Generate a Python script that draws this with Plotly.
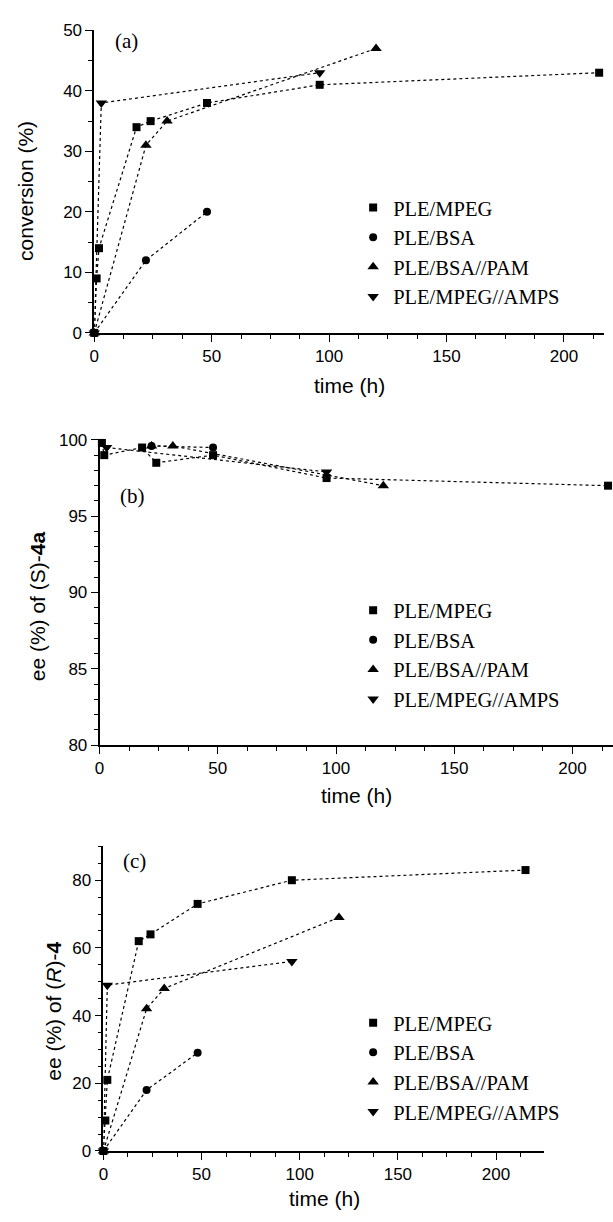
import plotly.graph_objects as go

W, H = 613, 1222

# ---------------- data ----------------
series_names = ["PLE/MPEG", "PLE/BSA", "PLE/BSA//PAM", "PLE/MPEG//AMPS"]
symbols = ["square", "circle", "triangle-up", "triangle-down"]
marker_sizes = [8, 8, 10, 10]

# (a) conversion (%)
a_mpeg_t = [0, 1, 2, 18, 24, 48, 96, 215]
a_mpeg_v = [0, 9, 14, 34, 35, 38, 41, 43]
a_bsa_t = [0, 22, 48]
a_bsa_v = [0, 12, 20]
a_pam_t = [0, 22, 31, 120]
a_pam_v = [0, 31, 35, 47]
a_amps_t = [0, 3, 96]
a_amps_v = [0, 38, 43]

# (b) ee (%) of (S)-4a
b_mpeg_t = [1, 2, 18, 24, 48, 96, 215]
b_mpeg_v = [99.8, 99.0, 99.5, 98.5, 99.0, 97.5, 97.0]
b_bsa_t = [22, 48]
b_bsa_v = [99.6, 99.5]
b_pam_t = [22, 31, 120]
b_pam_v = [99.6, 99.6, 97.0]
b_amps_t = [3, 96]
b_amps_v = [99.5, 97.9]

# (c) ee (%) of (R)-4
c_mpeg_t = [0, 1, 2, 18, 24, 48, 96, 215]
c_mpeg_v = [0, 9, 21, 62, 64, 73, 80, 83]
c_bsa_t = [0, 22, 48]
c_bsa_v = [0, 18, 29]
c_pam_t = [0, 22, 31, 120]
c_pam_v = [0, 42, 48, 69]
c_amps_t = [0, 2, 96]
c_amps_v = [0, 49, 56]

panels = [
    ("", "", "legend", [(a_mpeg_t, a_mpeg_v), (a_bsa_t, a_bsa_v), (a_pam_t, a_pam_v), (a_amps_t, a_amps_v)]),
    ("2", "2", "legend2", [(b_mpeg_t, b_mpeg_v), (b_bsa_t, b_bsa_v), (b_pam_t, b_pam_v), (b_amps_t, b_amps_v)]),
    ("3", "3", "legend3", [(c_mpeg_t, c_mpeg_v), (c_bsa_t, c_bsa_v), (c_pam_t, c_pam_v), (c_amps_t, c_amps_v)]),
]

fig = go.Figure()
for xs, ys, leg, data in panels:
    for i, (t, v) in enumerate(data):
        fig.add_trace(go.Scatter(
            x=t, y=v, mode="lines", xaxis="x" + xs, yaxis="y" + ys,
            line=dict(color="black", width=1.2, dash="dot"),
            showlegend=False, hoverinfo="skip"))
    for i, (t, v) in enumerate(data):
        fig.add_trace(go.Scatter(
            x=t, y=v, mode="markers", xaxis="x" + xs, yaxis="y" + ys,
            name=series_names[i], legend=leg, cliponaxis=False,
            marker=dict(symbol=symbols[i], size=marker_sizes[i], color="black",
                        line=dict(width=0))))

def px_x(p):
    return p / W

def px_y(p):
    return 1 - p / H

tickfont = dict(family="Liberation Sans, Arial, sans-serif", size=17, color="black")
common = dict(showgrid=False, zeroline=False, showline=True, linecolor="black",
              linewidth=1.6, ticks="outside", ticklen=7, tickwidth=1.4,
              tickcolor="black", tickfont=tickfont)
minor_x = dict(dtick=12.5, tick0=0, ticks="outside", ticklen=4, tickwidth=1.2, tickcolor="black")

fig.update_layout(
    width=W, height=H,
    margin=dict(l=0, r=0, t=0, b=0),
    paper_bgcolor="white", plot_bgcolor="white",
    showlegend=True,
    xaxis=dict(domain=[px_x(90), px_x(604)], range=[0, 217.1], anchor="y",
               tickvals=[0, 50, 100, 150, 200], minor=minor_x, **common),
    yaxis=dict(domain=[px_y(329), px_y(21.7)], range=[0, 50], anchor="x",
               dtick=10, minor=dict(dtick=5, ticks="outside", ticklen=4, tickwidth=1.2, tickcolor="black"),
               **common),
    xaxis2=dict(domain=[px_x(95.3), 1.0], range=[0, 217.1], anchor="y2",
                tickvals=[0, 50, 100, 150, 200], minor=minor_x, **common),
    yaxis2=dict(domain=[px_y(747.7), px_y(437.7)], range=[80, 100], anchor="x2",
                dtick=5, minor=dict(dtick=1, ticks="outside", ticklen=4, tickwidth=1.2, tickcolor="black"),
                **common),
    xaxis3=dict(domain=[px_x(99.2), px_x(543)], range=[0, 224.2], anchor="y3",
                tickvals=[0, 50, 100, 150, 200], minor=minor_x, **common),
    yaxis3=dict(domain=[px_y(1160), px_y(850.6)], range=[0, 90], anchor="x3",
                tickvals=[0, 20, 40, 60, 80],
                minor=dict(dtick=5, ticks="outside", ticklen=4, tickwidth=1.2, tickcolor="black"),
                **common),
)

legfont = dict(family="Liberation Serif, Times New Roman, serif", size=20.5, color="black")
for name, top in [("legend", 181.5), ("legend2", 590.5), ("legend3", 1009.5)]:
    fig.update_layout({name: dict(x=px_x(351), y=px_y(top), xanchor="left", yanchor="top",
                                  bgcolor="rgba(0,0,0,0)", font=legfont, itemwidth=30,
                                  tracegroupgap=0)})

annfont = dict(family="Liberation Sans, Arial, sans-serif", size=21, color="black")
serif = dict(family="Liberation Serif, Times New Roman, serif", size=21, color="black")
annotations = [
    dict(text="time (h)", x=px_x(347), y=px_y(382), font=annfont),
    dict(text="time (h)", x=px_x(354), y=px_y(799), font=annfont),
    dict(text="time (h)", x=px_x(322), y=px_y(1208), font=annfont),
    dict(text="conversion (%)", x=px_x(20), y=px_y(185), font=annfont, textangle=-90),
    dict(text="ee (%) of (S)-<b>4a</b>", x=px_x(33), y=px_y(607), font=annfont, textangle=-90),
    dict(text="ee (%) of (<i>R</i>)-<b>4</b>", x=px_x(49), y=px_y(1018), font=annfont, textangle=-90),
    dict(text="(a)", x=px_x(122), y=px_y(33), font=serif),
    dict(text="(b)", x=px_x(129), y=px_y(495), font=serif),
    dict(text="(c)", x=px_x(131), y=px_y(865), font=serif),
]
for a in annotations:
    a.update(xref="paper", yref="paper", showarrow=False, xanchor="center", yanchor="middle")
fig.update_layout(annotations=annotations)

fig.write_html(
    "out.html",
    config={"displayModeBar": False},
    post_script="document.body.style.margin='0';document.body.style.padding='0';"
                "document.body.style.overflow='hidden';"
                "document.documentElement.style.overflow='hidden';",
)
